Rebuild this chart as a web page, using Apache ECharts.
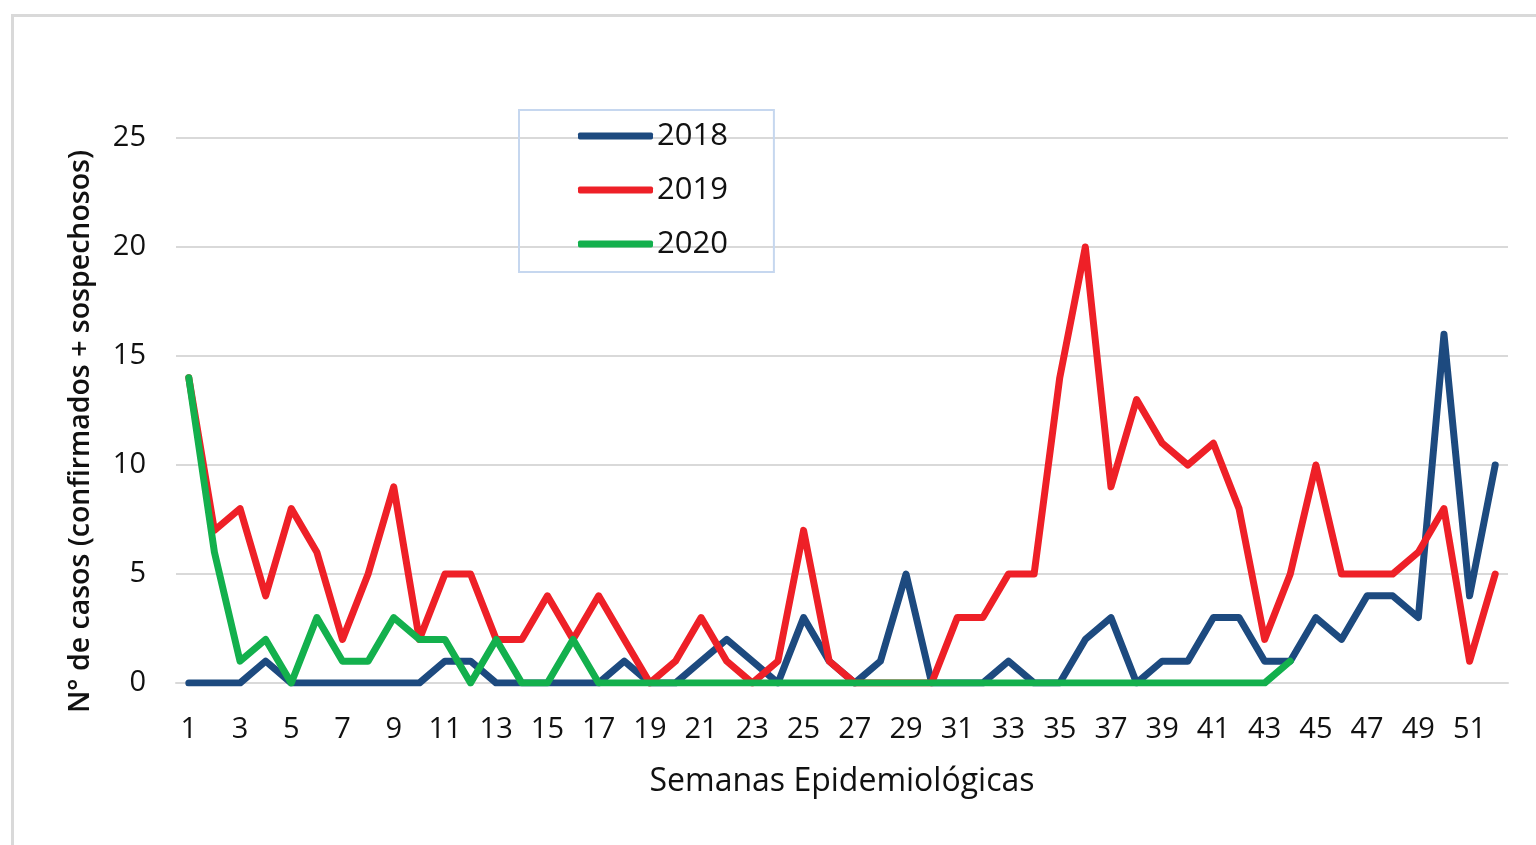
<!DOCTYPE html>
<html>
<head>
<meta charset="utf-8">
<script src="https://cdn.jsdelivr.net/npm/echarts@6/dist/echarts.min.js"></script>
<style>html,body{margin:0;padding:0;background:#fff}#c{width:1536px;height:845px}</style>
</head>
<body>
<div id="c"></div>
<script>
const weeks = Array.from({length: 52}, (_, i) => String(i + 1));
const s2018 = [0,0,0,1,0,0,0,0,0,0,1,1,0,0,0,0,0,1,0,0,1,2,1,0,3,1,0,1,5,0,0,0,1,0,0,2,3,0,1,1,3,3,1,1,3,2,4,4,3,16,4,10];
const s2019 = [14,7,8,4,8,6,2,5,9,2,5,5,2,2,4,2,4,2,0,1,3,1,0,1,7,1,0,0,0,0,3,3,5,5,14,20,9,13,11,10,11,8,2,5,10,5,5,5,6,8,1,5];
const s2020 = [14,6,1,2,0,3,1,1,3,2,2,0,2,0,0,2,0,0,0,0,0,0,0,0,0,0,0,0,0,0,0,0,0,0,0,0,0,0,0,0,0,0,0,1];
const yTicks = [0, 5, 10, 15, 20, 25];
const seriesNames = ['2018', '2019', '2020'];
const colors = ['#1d4a7f', '#ee2027', '#13b04d'];

const FONT = 'Open Sans';
const chart = echarts.init(document.getElementById('c'), null, {renderer: 'canvas'});
chart.setOption({
  animation: false,
  backgroundColor: '#fff',
  textStyle: {fontFamily: FONT},
  graphic: [{
    type: 'rect', left: 10, top: 13, z: -1, silent: true,
    shape: {width: 1540, height: 850},
    style: {fill: 'none', stroke: '#d9d9d9', lineWidth: 3}
  }],
  grid: {left: 176, right: 28, top: 138, bottom: 162, containLabel: false},
  legend: {
    orient: 'vertical', left: 519, top: 110,
    data: seriesNames,
    icon: 'roundRect', itemWidth: 75, itemHeight: 7, itemGap: 22,
    padding: [10, 46, 12, 59],
    borderColor: '#c6d7ef', borderWidth: 2,
    textStyle: {fontFamily: FONT, fontSize: 31, color: '#111', lineHeight: 32, padding: [0,0,0,-1]}
  },
  xAxis: {
    type: 'category', data: weeks, boundaryGap: true,
    name: 'Semanas Epidemiológicas', nameLocation: 'middle', nameGap: 83,
    nameTextStyle: {fontFamily: FONT, fontSize: 32, color: '#111'},
    axisLine: {show: true, lineStyle: {color: '#d9d9d9', width: 2}},
    axisTick: {show: false},
    axisLabel: {interval: 1, margin: 32, fontSize: 29, color: '#111', fontFamily: FONT}
  },
  yAxis: {
    type: 'value', min: 0, max: 25, interval: 5,
    name: 'N° de casos (confirmados + sospechosos)', nameLocation: 'middle', nameGap: 81,
    nameTextStyle: {fontFamily: FONT, fontSize: 28.5, fontWeight: 600, color: '#111', padding: [0, 42, 0, 0]},
    axisLine: {show: false}, axisTick: {show: false},
    axisLabel: {margin: 30, fontSize: 29, color: '#111', fontFamily: FONT,
      formatter: v => yTicks.includes(v) ? String(v) : ''},
    splitLine: {lineStyle: {color: '#d9d9d9', width: 2}}
  },
  series: [s2018, s2019, s2020].map((d, i) => ({
    name: seriesNames[i], type: 'line', data: d,
    symbol: 'none', smooth: false,
    lineStyle: {color: colors[i], width: 7, join: 'round', cap: 'round'},
    itemStyle: {color: colors[i]},
    z: 2 + i
  }))
});
</script>
</body>
</html>
